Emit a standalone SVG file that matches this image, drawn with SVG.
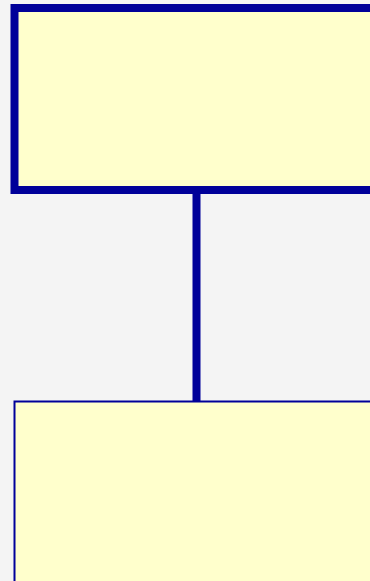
<svg xmlns="http://www.w3.org/2000/svg" width="370" height="581" viewBox="0 0 370 581">
<style>
.node{fill:#ffffcc;stroke:#000099}
.edge{stroke:#000099;stroke-width:8;fill:none}
</style>
<rect x="0" y="0" width="370" height="581" fill="#f4f4f4"/>
<g id="connectors">
<line class="edge" x1="196.5" y1="190" x2="196.5" y2="401"/>
</g>
<g id="node-top">
<rect class="node" x="14.5" y="8" width="400" height="182" stroke-width="8"/>
</g>
<g id="node-bottom">
<rect class="node" x="14.5" y="401.5" width="400" height="250" stroke-width="2"/>
</g>
</svg>
